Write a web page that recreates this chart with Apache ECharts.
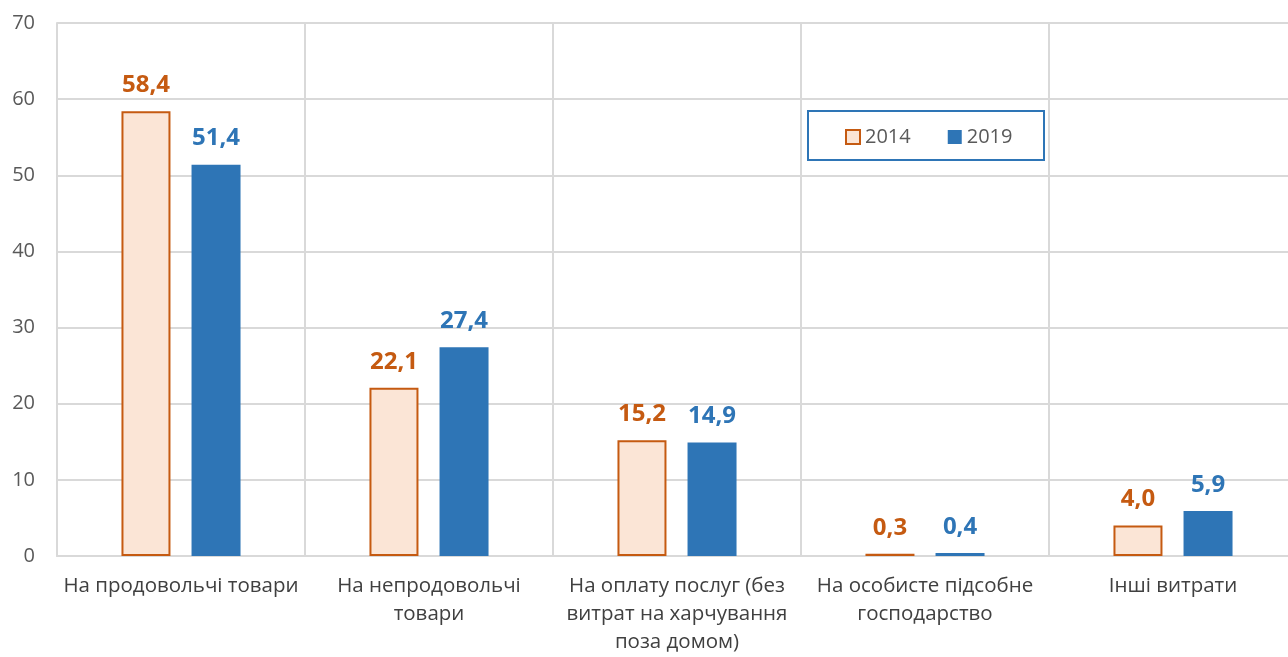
<!DOCTYPE html>
<html>
<head>
<meta charset="utf-8">
<script src="https://cdn.jsdelivr.net/npm/echarts@6/dist/echarts.min.js"></script>
<style>
  html, body { margin: 0; padding: 0; background: #fff; }
  #chart { width: 1288px; height: 657px; }
</style>
</head>
<body>
<div id="chart"></div>
<script>
// categories and values
const categories = [
  'На продовольчі товари',
  'На непродовольчі\nтовари',
  'На оплату послуг (без\nвитрат на харчування\nпоза домом)',
  'На особисте підсобне\nгосподарство',
  'Інші витрати'
];
const values2014 = [58.4, 22.1, 15.2, 0.3, 4.0];
const values2019 = [51.4, 27.4, 14.9, 0.4, 5.9];
const yTicks = [0, 10, 20, 30, 40, 50, 60, 70];

const FONT = '"Open Sans", "Noto Sans", sans-serif';
const ORANGE = '#C55A11';
const PEACH = '#FBE5D6';
const BLUE = '#2E75B6';
const GRID = '#d9d9d9';

const chart = echarts.init(document.getElementById('chart'));

const fmt = (p) => p.value.toFixed(1).replace('.', ',');

const barLabel = (color) => ({
  show: true,
  position: 'top',
  distance: 14,
  color,
  fontSize: 24,
  fontWeight: 'bold',
  fontFamily: FONT,
  formatter: fmt
});

chart.setOption({
  backgroundColor: '#fff',
  animation: false,
  textStyle: { fontFamily: FONT },
  // plot area runs past the right edge of the picture, like the original
  grid: { left: 57, width: 1240, top: 23, bottom: 101, outerBoundsMode: 'none' },
  // legend box drawn separately (Excel-style framed legend)
  graphic: [{
    type: 'rect',
    shape: { x: 808, y: 111, width: 236, height: 49 },
    style: { fill: 'none', stroke: BLUE, lineWidth: 2 },
    z: 1
  }],
  legend: {
    left: 845,
    top: 127,
    padding: 0,
    itemGap: 37,
    itemWidth: 14,
    itemHeight: 14,
    textStyle: { fontFamily: FONT, fontSize: 20, color: '#595959' },
    data: [
      { name: '2014', icon: 'rect', itemStyle: { color: PEACH, borderColor: ORANGE, borderWidth: 2 } },
      { name: '2019', icon: 'rect' }
    ]
  },
  xAxis: {
    type: 'category',
    data: categories,
    axisTick: { show: false },
    axisLine: { lineStyle: { color: GRID, width: 2 } },
    splitLine: { show: true, lineStyle: { color: GRID, width: 2 } },
    axisLabel: {
      color: '#404040',
      fontSize: 20.5,
      lineHeight: 28,
      margin: 16,
      interval: 0,
      fontFamily: FONT
    }
  },
  yAxis: {
    type: 'value',
    min: 0,
    max: 70,
    interval: 10,
    axisLine: { show: true, lineStyle: { color: GRID, width: 2 } },
    axisTick: { show: false },
    splitLine: { lineStyle: { color: GRID, width: 2 } },
    axisLabel: {
      color: '#595959',
      fontSize: 20,
      margin: 22,
      fontFamily: FONT,
      formatter: (v) => (yTicks.includes(v) ? String(v) : '')
    }
  },
  series: [
    {
      name: '2014',
      type: 'bar',
      data: values2014,
      barWidth: 49,
      barGap: '43%',
      itemStyle: { color: PEACH, borderColor: ORANGE, borderWidth: 2 },
      label: barLabel(ORANGE)
    },
    {
      name: '2019',
      type: 'bar',
      data: values2019,
      barWidth: 49,
      itemStyle: { color: BLUE },
      label: barLabel(BLUE)
    }
  ]
});
</script>
</body>
</html>
